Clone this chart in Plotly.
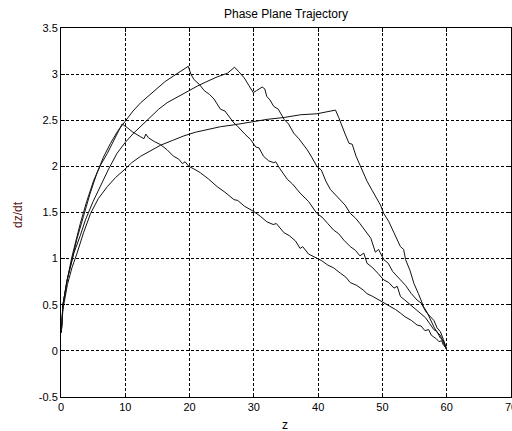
import plotly.graph_objects as go

# ---- data ----
z_a = [0.05, 0.3, 0.96, 1.7, 3.0, 4.0, 5.1, 6.2, 7.2, 8.4, 9.5, 10.3, 11.2, 12.4, 12.9, 13.2, 13.6, 14.5, 15.5, 16.5, 17.5, 18.3, 18.9, 19.3, 19.9, 21.0, 21.7, 23.0, 24.3, 25.5, 26.9, 27.5, 28.5, 30.0, 31.0, 32.0, 33.0, 33.5, 34.7, 35.5, 36.5, 37.2, 37.6, 38.5, 39.8, 40.5, 41.5, 42.4, 43.5, 44.3, 45.0, 46.0, 47.0, 47.6, 48.5, 49.5, 50.2, 51.0, 52.0, 52.8, 53.5, 54.5, 55.4, 56.0, 56.6, 57.2, 57.6, 58.0, 58.4, 58.8, 59.2, 59.5, 59.8, 60.0]
y_a = [0.2, 0.5, 0.77, 1.02, 1.38, 1.62, 1.85, 2.02, 2.14, 2.3, 2.46, 2.42, 2.37, 2.32, 2.30, 2.35, 2.31, 2.27, 2.235, 2.18, 2.11, 2.08, 2.03, 2.05, 2.0, 1.96, 1.93, 1.86, 1.78, 1.72, 1.64, 1.63, 1.57, 1.51, 1.46, 1.40, 1.37, 1.38, 1.28, 1.25, 1.19, 1.11, 1.13, 1.05, 1.0, 0.98, 0.93, 0.90, 0.84, 0.80, 0.74, 0.71, 0.66, 0.62, 0.59, 0.55, 0.53, 0.49, 0.45, 0.41, 0.37, 0.33, 0.28, 0.27, 0.22, 0.23, 0.17, 0.15, 0.13, 0.10, 0.11, 0.06, 0.04, 0.01]

z_b = [0.05, 0.3, 0.9, 1.7, 2.5, 3.5, 4.5, 5.6, 6.6, 7.7, 8.8, 10.0, 11.2, 12.4, 13.7, 15.0, 16.2, 17.5, 18.7, 19.8, 20.2, 20.7, 21.5, 22.3, 22.7, 23.1, 23.8, 24.8, 25.5, 26.0, 26.9, 27.4, 27.9, 28.6, 29.5, 30.3, 30.8, 31.5, 32.3, 33.1, 33.4, 34.0, 35.2, 36.0, 37.2, 37.8, 38.5, 39.8, 40.6, 41.5, 42.4, 43.2, 44.0, 45.0, 45.8, 46.5, 47.1, 47.6, 48.5, 49.3, 50.2, 51.0, 51.8, 52.3, 52.8, 53.5, 54.2, 55.4, 56.0, 56.7, 57.3, 58.0, 58.5, 59.0, 59.4, 59.8, 60.0]
y_b = [0.2, 0.5, 0.75, 1.0, 1.22, 1.46, 1.70, 1.93, 2.10, 2.25, 2.38, 2.49, 2.60, 2.69, 2.77, 2.85, 2.92, 2.98, 3.03, 3.085, 3.0, 2.94, 2.89, 2.82, 2.80, 2.78, 2.73, 2.62, 2.60, 2.55, 2.47, 2.44, 2.40, 2.35, 2.29, 2.21, 2.20, 2.11, 2.06, 2.04, 2.05, 1.98, 1.86, 1.81, 1.71, 1.67, 1.62, 1.49, 1.45, 1.38, 1.31, 1.27, 1.20, 1.13, 1.09, 1.03, 1.06, 0.95, 0.90, 0.84, 0.77, 0.74, 0.68, 0.70, 0.59, 0.55, 0.51, 0.44, 0.40, 0.36, 0.30, 0.23, 0.21, 0.14, 0.12, 0.05, 0.01]

z_c = [0.05, 0.3, 1.0, 2.0, 3.0, 3.8, 5.0, 6.1, 7.4, 8.7, 10.0, 11.3, 12.6, 13.9, 15.2, 16.5, 18.0, 19.6, 21.2, 22.7, 24.3, 25.9, 27.0, 27.6, 28.5, 29.2, 29.9, 30.4, 31.3, 31.7, 32.0, 32.5, 33.1, 33.8, 34.7, 35.4, 36.2, 37.0, 38.3, 39.0, 39.8, 40.5, 41.2, 41.9, 42.6, 43.5, 44.2, 45.0, 45.8, 46.5, 47.6, 48.2, 48.9, 49.4, 50.2, 50.9, 51.6, 52.2, 52.8, 53.6, 54.5, 55.4, 56.0, 56.8, 57.4, 58.0, 58.5, 59.0, 59.5, 59.8, 60.0]
y_c = [0.2, 0.5, 0.78, 1.06, 1.25, 1.42, 1.62, 1.78, 1.97, 2.14, 2.26, 2.36, 2.45, 2.54, 2.62, 2.69, 2.75, 2.81, 2.87, 2.92, 2.97, 3.01, 3.075, 3.03, 2.96, 2.88, 2.80, 2.82, 2.86, 2.84, 2.76, 2.72, 2.65, 2.62, 2.51, 2.46, 2.36, 2.30, 2.18, 2.10, 2.0, 1.96, 1.84, 1.75, 1.70, 1.64, 1.58, 1.49, 1.44, 1.38, 1.28, 1.22, 1.07, 1.10, 0.99, 0.95, 0.86, 0.82, 0.77, 0.71, 0.62, 0.55, 0.52, 0.42, 0.38, 0.33, 0.25, 0.21, 0.12, 0.06, 0.02]

z_d = [0.05, 0.3, 1.0, 1.7, 2.5, 3.5, 4.6, 5.8, 7.2, 8.5, 9.8, 11.0, 12.4, 14.0, 15.5, 17.3, 19.1, 20.9, 22.7, 24.8, 26.9, 29.5, 32.1, 34.7, 37.3, 39.8, 42.4, 42.7, 43.2, 43.5, 44.2, 44.8, 45.3, 45.9, 46.6, 47.1, 47.6, 48.4, 49.2, 49.7, 50.2, 51.0, 51.8, 52.3, 52.8, 53.3, 53.6, 54.3, 54.9, 55.6, 56.4, 57.0, 57.5, 58.0, 58.5, 59.0, 59.4, 59.8, 60.0]
y_d = [0.2, 0.45, 0.72, 0.9, 1.06, 1.28, 1.49, 1.65, 1.78, 1.88, 1.96, 2.04, 2.11, 2.17, 2.23, 2.28, 2.33, 2.37, 2.40, 2.43, 2.45, 2.48, 2.51, 2.53, 2.56, 2.57, 2.60, 2.61, 2.53, 2.47, 2.35, 2.25, 2.24, 2.11, 2.0, 1.92, 1.84, 1.74, 1.64, 1.58, 1.49, 1.40, 1.28, 1.20, 1.13, 1.10, 0.99, 0.87, 0.73, 0.62, 0.48, 0.41, 0.33, 0.26, 0.20, 0.17, 0.10, 0.04, 0.01]

x_ticks = [0, 10, 20, 30, 40, 50, 60, 70]
x_tick_labels = ["0", "10", "20", "30", "40", "50", "60", "70"]
y_ticks = [-0.5, 0, 0.5, 1, 1.5, 2, 2.5, 3, 3.5]
y_tick_labels = ["-0.5", "0", "0.5", "1", "1.5", "2", "2.5", "3", "3.5"]

FONT = "Liberation Sans, Arial, sans-serif"

fig = go.Figure()
for zz, yy in [(z_a, y_a), (z_b, y_b), (z_c, y_c), (z_d, y_d)]:
    fig.add_trace(go.Scatter(x=zz, y=yy, mode="lines",
                             line=dict(color="#111111", width=1),
                             showlegend=False, hoverinfo="skip", cliponaxis=False))

axis_common = dict(
    showline=True, linecolor="#000000", linewidth=1, mirror="ticks",
    ticks="inside", ticklen=4, tickcolor="#000000",
    showgrid=True, gridcolor="#000000", gridwidth=1, griddash="3px,2px",
    zeroline=False, automargin=False, ticklabeloverflow="allow",
    tickfont=dict(family=FONT, size=11, color="#000000"),
)

W, H = 512, 431
L, R, T, B = 61, 1, 28, 34
pw, ph = W - L - R, H - T - B

fig.update_layout(
    width=W, height=H,
    margin=dict(l=L, r=R, t=T, b=B, autoexpand=False),
    paper_bgcolor="#ffffff", plot_bgcolor="#ffffff",
    font=dict(family=FONT, size=11, color="#000000"),
    title=dict(text="Phase Plane Trajectory", x=0.5, xanchor="center",
               xref="paper", y=1 - 14 / H, yref="container", yanchor="middle",
               font=dict(family=FONT, size=12, color="#000000")),
    xaxis=dict(range=[0, 70], tickvals=x_ticks, ticktext=x_tick_labels, **axis_common),
    yaxis=dict(range=[-0.5, 3.5], tickvals=y_ticks, ticktext=y_tick_labels, **axis_common),
    annotations=[
        dict(text="z", xref="paper", yref="paper", x=(285 - L) / pw,
             y=-(425 - (T + ph)) / ph, xanchor="center", yanchor="middle",
             showarrow=False, font=dict(family=FONT, size=12, color="#000000")),
        dict(text="dz/dt", xref="paper", yref="paper", x=(18 - L) / pw,
             y=(T + ph - 215) / ph, xanchor="center", yanchor="middle", textangle=-90,
             showarrow=False, font=dict(family=FONT, size=12, color="#5a1414")),
    ],
)

# remove the browser's default page margin so the figure fills the window exactly
post_js = ("document.documentElement.style.overflow='hidden';"
           "document.body.style.margin='0';"
           "document.body.style.overflow='hidden';")

fig.write_html("out.html", post_script=post_js,
               config={"displayModeBar": False, "staticPlot": True})
